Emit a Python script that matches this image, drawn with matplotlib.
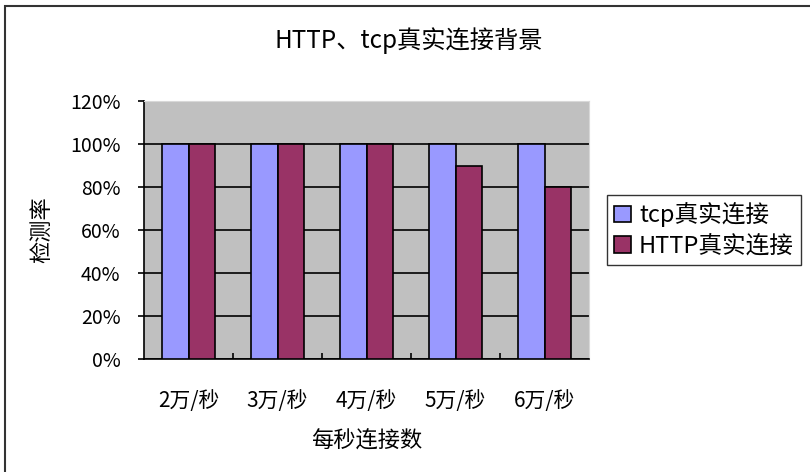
import matplotlib
matplotlib.use('Agg')
import matplotlib.pyplot as plt
import numpy as np
from matplotlib.patches import Rectangle
from matplotlib.ticker import FixedLocator, PercentFormatter

plt.rcParams['font.family'] = ['Noto Sans CJK SC', 'DejaVu Sans']

# 数据
categories = ['2万/秒', '3万/秒', '4万/秒', '5万/秒', '6万/秒']
tcp_rate = [100, 100, 100, 100, 100]
http_rate = [100, 100, 100, 90, 80]
series_names = ['tcp真实连接', 'HTTP真实连接']

fig = plt.figure(figsize=(8.1, 4.72), dpi=100)
ax = fig.add_axes([144 / 810, 113 / 472, 445 / 810, 258 / 472])
ax.set_facecolor('#C0C0C0')

x = np.arange(len(categories))
w = 0.303
ax.bar(x - w / 2, tcp_rate, w, color='#9999FF', edgecolor='black', linewidth=1.2,
       label=series_names[0], zorder=3)
ax.bar(x + w / 2, http_rate, w, color='#993366', edgecolor='black', linewidth=1.2,
       label=series_names[1], zorder=3)

ax.set_xlim(-0.5, len(categories) - 0.5)
ax.set_ylim(0, 120)
ax.set_yticks(np.arange(0, 121, 20))
ax.yaxis.set_major_formatter(PercentFormatter(decimals=0))
ax.grid(axis='y', color='black', linewidth=1.2, zorder=1)
ax.set_axisbelow(True)

ax.set_xticks(x)
ax.set_xticklabels(categories, fontsize=15)
ax.xaxis.set_minor_locator(FixedLocator(np.arange(0.5, len(categories) - 0.5, 1)))
ax.tick_params(axis='x', which='major', length=0, pad=22)
ax.tick_params(axis='x', which='minor', direction='in', length=4, width=1.2)
ax.tick_params(axis='y', direction='out', length=4, width=1.2, labelsize=14, pad=13)

for side in ['top', 'right']:
    ax.spines[side].set_color('#D8D8D8')
for side in ['left', 'bottom']:
    ax.spines[side].set_color('black')
    ax.spines[side].set_linewidth(1.2)

ax.set_xlabel('每秒连接数', fontsize=16, labelpad=13)
ax.set_ylabel('检测率', fontsize=16, labelpad=12)

fig.text(409 / 810, 1 - 41 / 472, 'HTTP、tcp真实连接背景', ha='center', va='center', fontsize=17.5)

leg = ax.legend(loc='center left', bbox_to_anchor=((607 - 144) / 445, 0.5),
                fontsize=17, frameon=True, fancybox=False, edgecolor='black',
                handlelength=0.7, handleheight=0.7, handletextpad=0.35,
                borderpad=0.3, labelspacing=0.3, borderaxespad=0)
leg.get_frame().set_linewidth(1.0)
for h in leg.legend_handles:
    h.set_linewidth(1.2)

# 外框
fig.patches.append(Rectangle((5 / 810, -0.1), 1.2, 1.1 - 6 / 472,
                             transform=fig.transFigure, fill=False,
                             edgecolor='#333333', linewidth=1.5))

fig.savefig('out.png', dpi=100)
